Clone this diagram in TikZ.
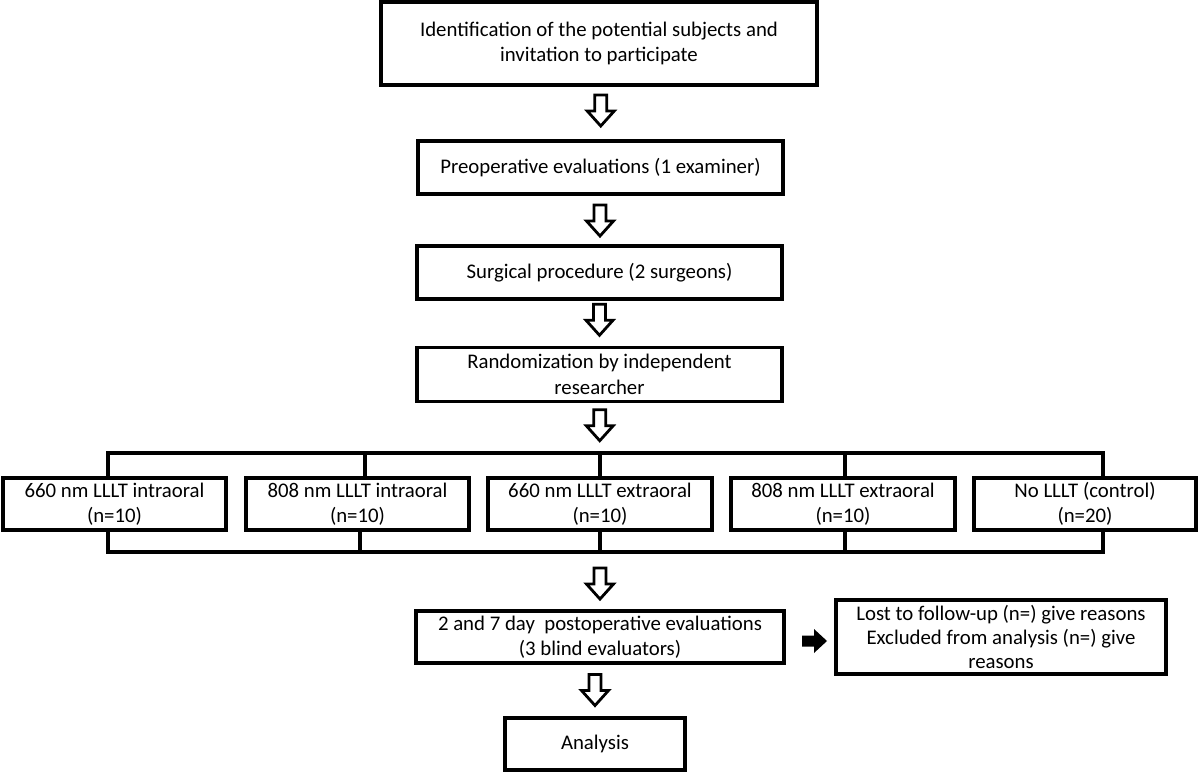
\documentclass[tikz,border=0pt]{standalone}
\usepackage{fontspec}
\setmainfont{Carlito}
\usetikzlibrary{calc}
\begin{document}
\begin{tikzpicture}[x=1pt,y=-1pt,
  box/.style={draw=black,line width=3.8pt,fill=white,inner sep=0pt,align=center,
    font=\fontsize{20.8}{25.5}\selectfont},
  bline/.style={line width=3.3pt,line cap=rect},
  harrow/.pic={\draw[line width=2.8pt,fill=white,line join=miter]
     (-6,-16) -- (6,-16) -- (6,0) -- (13.5,0) -- (0,15) -- (-13.5,0) -- (-6,0) -- cycle;},
  sarrow/.pic={\fill[black] (-12,-5.5) -- (0,-5.5) -- (0,-12) -- (13,0) -- (0,12) -- (0,5.5) -- (-12,5.5) -- cycle;}
]
\useasboundingbox (0,0) rectangle (1200,773);
\fill[white] (0,0) rectangle (1200,773);

\node[box,minimum width=436pt,minimum height=83pt] (n1) at (599,43.5)
  {Identification of the potential subjects and\\invitation to participate};
\node[box,minimum width=365pt,minimum height=53pt] (pre) at (600.5,167.5)
  {Preoperative evaluations (1 examiner)};
\node[box,minimum width=365pt,minimum height=53pt] (surg) at (599.5,272.5)
  {Surgical procedure (2 surgeons)};
\node[box,minimum width=365pt,minimum height=54pt] (rand) at (599.5,374.5)
  {Randomization by independent\\researcher};

\node[box,minimum width=223pt,minimum height=52pt] (g1) at (114.5,504)
  {660 nm LLLT intraoral\\(n=10)};
\node[box,minimum width=223pt,minimum height=52pt] (g2) at (357.5,504)
  {808 nm LLLT intraoral\\(n=10)};
\node[box,minimum width=224pt,minimum height=52pt] (g3) at (600,504)
  {660 nm LLLT extraoral\\(n=10)};
\node[box,minimum width=224pt,minimum height=52pt] (g4) at (843,504)
  {808 nm LLLT extraoral\\(n=10)};
\node[box,minimum width=222pt,minimum height=52pt] (g5) at (1085,504)
  {No LLLT (control)\\(n=20)};

\node[box,minimum width=368pt,minimum height=52pt] (post) at (600,637)
  {2 and 7 day\ \ postoperative evaluations\\(3 blind evaluators)};
\node[box,minimum width=330pt,minimum height=74pt,
  font=\fontsize{20.8}{24}\selectfont] (lost) at (1001,637)
  {Lost to follow-up (n=) give reasons\\Excluded from analysis (n=) give\\reasons};
\node[box,minimum width=180pt,minimum height=52pt] (anal) at (595,744)
  {Analysis};

% bracket coordinates
\coordinate (t1) at (108,453);
\coordinate (t2) at (365,453);
\coordinate (t3) at (600,453);
\coordinate (t4) at (845,453);
\coordinate (t5) at (1103,453);
\coordinate (b1) at (108,552);
\coordinate (b2) at (360,552);
\coordinate (b3) at (600,552);
\coordinate (b4) at (845,552);
\coordinate (b5) at (1103,552);

\draw[bline] (t1 |- g1.north) -- (t1) -- (t5) -- (t5 |- g5.north);
\draw[bline] (t2) -- (t2 |- g2.north);
\draw[bline] (t3) -- (g3.north);
\draw[bline] (t4) -- (t4 |- g4.north);
\draw[bline] (b1 |- g1.south) -- (b1) -- (b5) -- (b5 |- g5.south);
\draw[bline] (b2 |- g2.south) -- (b2);
\draw[bline] (g3.south) -- (b3);
\draw[bline] (b4 |- g4.south) -- (b4);

% hollow arrows
\pic at ($(n1.south)!0.5!(pre.north)+(1,-2)$) {harrow};
\pic at ($(pre.south)!0.5!(surg.north)+(0,1)$) {harrow};
\pic at ($(surg.south)!0.5!(rand.north)+(0,-3)$) {harrow};
\pic at ($(rand.south)!0.5!(t3)+(0,-2.5)$) {harrow};
\pic at ($(b3)!0.5!(post.north)+(0,3.5)$) {harrow};
\pic at ($(post.south -| anal.north)!0.5!(anal.north)$) {harrow};

% small black arrow
\pic at ($(post.east)!0.5!(lost.west)+(4,4)$) {sarrow};
\end{tikzpicture}
\end{document}
